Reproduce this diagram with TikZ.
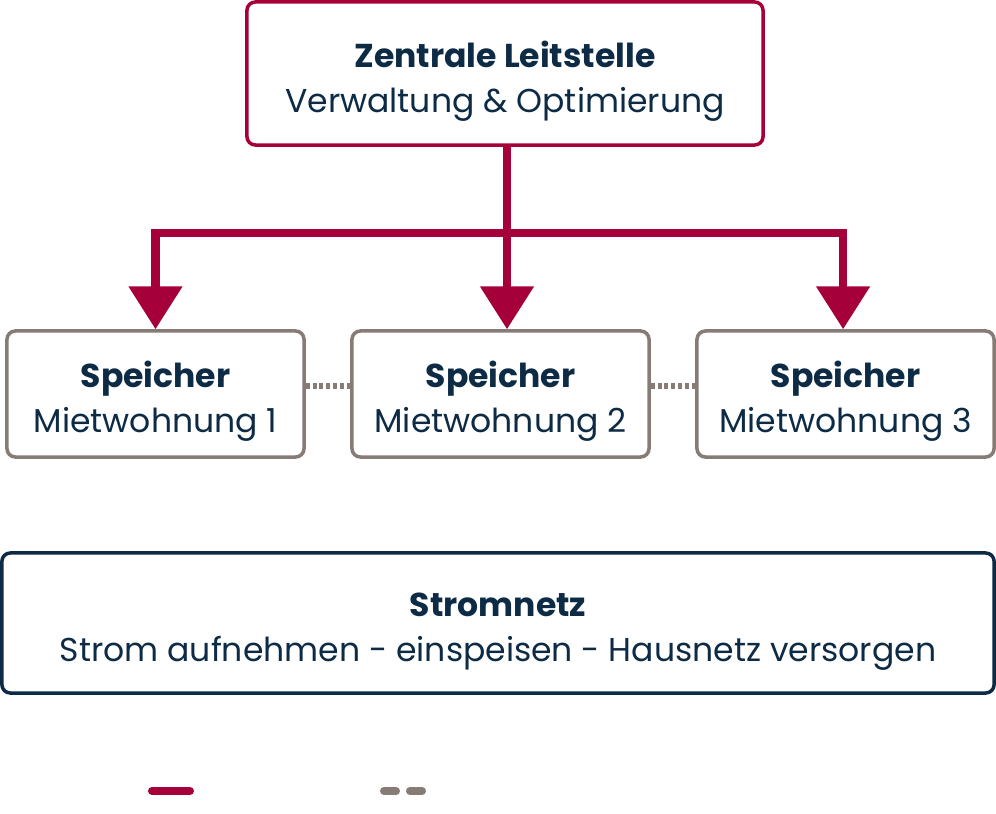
\documentclass[tikz,border=0pt]{standalone}
\usepackage{fontspec}
\setmainfont{Poppins}
\usetikzlibrary{arrows.meta,positioning}
\definecolor{leitrot}{HTML}{A6003A}
\definecolor{navy}{HTML}{0E2B45}
\definecolor{steingrau}{HTML}{877B76}
\newcommand{\tief}{\rule{0pt}{1.03cm}}
\tikzset{
  box/.style={draw, line width=2.5pt, rounded corners=6pt, fill=white, text=navy,
    align=center, font=\fontsize{23.5}{32}\selectfont},
  flow/.style={leitrot, line width=0.2cm, -{Triangle[width=1.3cm,length=1.07cm]}},
  link/.style={steingrau, line width=0.17cm, dash pattern=on 0.1cm off 0.07cm},
}
\begin{document}
\begin{tikzpicture}[x=0.025cm,y=-0.025cm]
\useasboundingbox (0,0) rectangle (996,814);
\node[box, draw=leitrot, minimum width=12.9cm, minimum height=3.575cm] (zl) at (505,73.5)
  {\tief\textbf{Zentrale Leitstelle}\\Verwaltung \& Optimierung};
\node[box, draw=steingrau, minimum width=7.425cm, minimum height=3.15cm] (sp1) at (155.5,394)
  {\tief\textbf{Speicher}\\Mietwohnung 1};
\node[box, draw=steingrau, minimum width=7.425cm, minimum height=3.15cm] (sp2) at (500.5,394)
  {\tief\textbf{Speicher}\\Mietwohnung 2};
\node[box, draw=steingrau, minimum width=7.425cm, minimum height=3.15cm] (sp3) at (845.5,394)
  {\tief\textbf{Speicher}\\Mietwohnung 3};
\node[box, draw=navy, minimum width=24.8cm, minimum height=3.5cm] (netz) at (498,623)
  {\tief\textbf{Stromnetz}\\Strom aufnehmen - einspeisen - Hausnetz versorgen};
% Verteilung
\coordinate (knoten) at (507,233);
\draw[flow] (zl.south -| knoten) -- (knoten) -- (knoten |- sp2.north);
\draw[flow, line cap=rect] (knoten) -| (sp1.north);
\draw[flow, line cap=rect] (knoten) -| ([xshift=-0.06cm]sp3.north);
% Kopplung
\draw[link] ([yshift=0.2cm]sp1.east) -- ([yshift=0.2cm]sp2.west);
\draw[link] ([yshift=0.2cm]sp2.east) -- ([yshift=0.2cm]sp3.west);
% Legende
\coordinate (lr1) at (152,791); \coordinate (lr2) at (190,791);
\coordinate (lg1) at (384,791); \coordinate (lg2) at (396,791);
\coordinate (lg3) at (410,791); \coordinate (lg4) at (422,791);
\draw[leitrot, line width=0.2cm, line cap=round] (lr1) -- (lr2);
\draw[steingrau, line width=0.2cm, line cap=round] (lg1) -- (lg2);
\draw[steingrau, line width=0.2cm, line cap=round] (lg3) -- (lg4);
\end{tikzpicture}
\end{document}
